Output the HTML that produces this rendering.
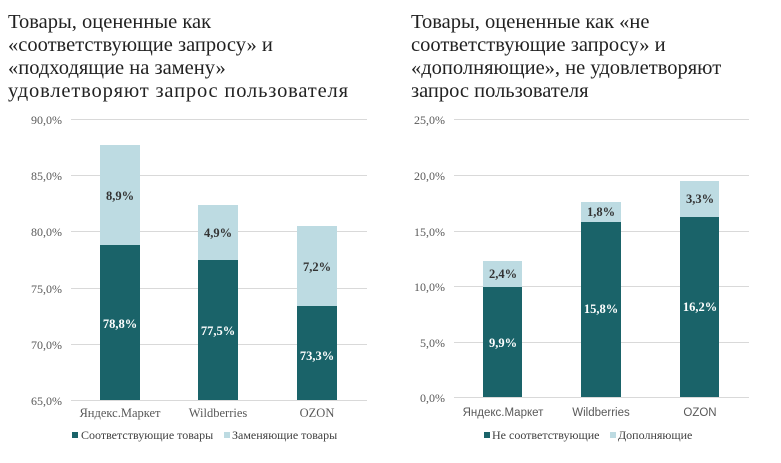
<!DOCTYPE html>
<html><head><meta charset="utf-8"><style>
body{margin:0;background:#fff}
svg{display:block}
.t{font-family:"Liberation Serif",serif;font-size:20.5px;fill:#222}
.ax{font-family:"Liberation Serif",serif;font-size:12px;fill:#595959}
.cat{font-family:"Liberation Serif",serif;font-size:12.5px;fill:#595959}
.cs{font-family:"Liberation Sans",sans-serif;font-size:11.5px;fill:#595959}
.lg{font-family:"Liberation Serif",serif;font-size:12px;fill:#404040}
.dl{font-family:"Liberation Serif",serif;font-size:12.5px;font-weight:bold}
</style></head><body>
<svg width="781" height="463" viewBox="0 0 781 463">
<g class="t">
<text x="8" y="28">Товары, оцененные как</text>
<text x="8" y="51">«соответствующие запросу» и</text>
<text x="8" y="74">«подходящие на замену»</text>
<text x="8" y="97" textLength="340">удовлетворяют запрос пользователя</text>
<text x="411" y="28">Товары, оцененные как «не</text>
<text x="411" y="51">соответствующие запросу» и</text>
<text x="411" y="74">«дополняющие», не удовлетворяют</text>
<text x="411" y="97">запрос пользователя</text>
</g>
<g stroke="#d9d9d9" stroke-width="1">
<line x1="71" x2="367" y1="119.5" y2="119.5"/><line x1="71" x2="367" y1="175.5" y2="175.5"/>
<line x1="71" x2="367" y1="231.5" y2="231.5"/><line x1="71" x2="367" y1="288.5" y2="288.5"/>
<line x1="71" x2="367" y1="344.5" y2="344.5"/><line x1="71" x2="367" y1="400.5" y2="400.5"/>
<line x1="454" x2="749" y1="119.5" y2="119.5"/><line x1="454" x2="749" y1="175.5" y2="175.5"/>
<line x1="454" x2="749" y1="231.5" y2="231.5"/><line x1="454" x2="749" y1="286.5" y2="286.5"/>
<line x1="454" x2="749" y1="342.5" y2="342.5"/><line x1="454" x2="749" y1="397.5" y2="397.5"/>
</g>
<g class="ax" text-anchor="end">
<text x="62" y="124">90,0%</text><text x="62" y="180">85,0%</text><text x="62" y="236">80,0%</text>
<text x="62" y="293">75,0%</text><text x="62" y="349">70,0%</text><text x="62" y="405">65,0%</text>
<text x="445" y="124">25,0%</text><text x="445" y="180">20,0%</text><text x="445" y="236">15,0%</text>
<text x="445" y="291">10,0%</text><text x="445" y="347">5,0%</text><text x="445" y="402">0,0%</text>
</g>
<rect x="100" y="145" width="40" height="100" fill="#bddbe2"/><rect x="100" y="245" width="40" height="155" fill="#1a6369"/>
<rect x="198" y="205" width="40" height="55" fill="#bddbe2"/><rect x="198" y="260" width="40" height="140" fill="#1a6369"/>
<rect x="297" y="226" width="40" height="80" fill="#bddbe2"/><rect x="297" y="306" width="40" height="94" fill="#1a6369"/>
<rect x="483" y="261" width="39" height="26" fill="#bddbe2"/><rect x="483" y="287" width="39" height="110" fill="#1a6369"/>
<rect x="581" y="202" width="40" height="20" fill="#bddbe2"/><rect x="581" y="222" width="40" height="175" fill="#1a6369"/>
<rect x="680" y="181" width="39" height="36" fill="#bddbe2"/><rect x="680" y="217" width="39" height="180" fill="#1a6369"/>
<g class="dl" text-anchor="middle">
<text x="120" y="200" fill="#333">8,9%</text>
<text x="120" y="328" fill="#fff">78,8%</text>
<text x="218" y="237" fill="#333">4,9%</text><text x="218" y="335" fill="#fff">77,5%</text>
<text x="317" y="271" fill="#333">7,2%</text><text x="317" y="360" fill="#fff">73,3%</text>
<text x="503" y="278" fill="#333">2,4%</text><text x="503" y="347" fill="#fff">9,9%</text>
<text x="601" y="216" fill="#333">1,8%</text><text x="601" y="313" fill="#fff">15,8%</text>
<text x="700" y="203" fill="#333">3,3%</text><text x="700" y="311" fill="#fff">16,2%</text>
</g>
<g class="cat" text-anchor="middle">
<text x="120" y="417">Яндекс.Маркет</text><text x="218" y="417">Wildberries</text><text x="317" y="417">OZON</text>
</g>
<g class="cs" text-anchor="middle">
<text x="503" y="416">Яндекс.Маркет</text><text x="601" y="416">Wildberries</text><text x="700" y="416">OZON</text>
</g>
<rect x="72" y="432" width="6" height="6" fill="#1a6369"/><text class="lg" x="81" y="439">Соответствующие товары</text>
<rect x="224" y="432" width="6" height="6" fill="#bddbe2"/><text class="lg" x="232" y="439">Заменяющие товары</text>
<rect x="484" y="432" width="6" height="6" fill="#1a6369"/><text class="lg" x="492" y="439">Не соответствующие</text>
<rect x="610" y="432" width="6" height="6" fill="#bddbe2"/><text class="lg" x="618" y="439">Дополняющие</text>
</svg>
</body></html>
